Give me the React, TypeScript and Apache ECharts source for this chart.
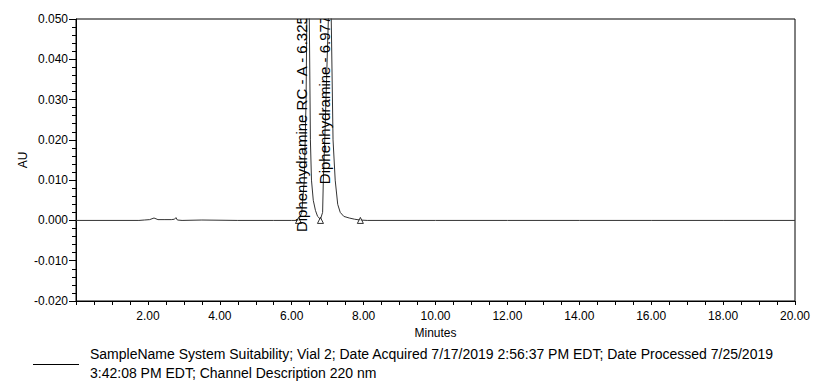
import React, { useEffect, useRef } from "react";
import * as echarts from "echarts";

// Trace (retention time in minutes, absorbance in AU)
const traceTimes = [
  0, 1.75, 1.9, 2.05, 2.17, 2.28, 2.45, 2.65, 2.74, 2.78, 2.82, 2.95, 3.5, 4.5, 5.5, 6.0,
  6.19, 6.28, 6.35, 6.4, 6.42, 6.455, 6.49, 6.52, 6.55, 6.6, 6.66, 6.72, 6.8,
  6.86, 6.88, 6.92, 6.97, 7.02, 7.06, 7.1, 7.15, 7.21, 7.28, 7.35, 7.45, 7.6, 7.75, 7.9, 8.1,
  10, 12, 14, 16, 18, 20,
];
const traceValues = [
  0, 0, 0.0001, 0.0002, 0.0006, 0.0002, 0.0002, 0.0002, 0.0003, 0.0007, 0.0001, 0, 0.0001, 0, 0, 0,
  0, 0.002, 0.01, 0.03, 0.05, 0.3, 0.05, 0.02, 0.01, 0.005, 0.0025, 0.001, 0.0003,
  0.002, 0.01, 0.02, 0.035, 0.05, 0.5, 0.05, 0.02, 0.01, 0.004, 0.002, 0.001, 0.0006, 0.0003, 0.0001, 0,
  0, 0, 0, 0, 0, 0,
];

// Integration markers (peak start / end)
const markerTimes = [6.19, 6.8, 7.91];
const markerValues = [0, 0, 0];

// Peak labels
const peakLabels = ["Diphenhydramine RC - A - 6.325", "Diphenhydramine - 6.977"];
const peakLabelTimes = [6.26, 6.9];
const peakLabelValues = [-0.0029, 0.009];

const yTicksMin = -0.02;
const yTicksMax = 0.05;
const xMin = 0;
const xMax = 20;

const legendText =
  "SampleName System Suitability; Vial 2; Date Acquired 7/17/2019 2:56:37 PM EDT; Date Processed 7/25/2019\n3:42:08 PM EDT; Channel Description 220 nm";

const FONT = '"Liberation Sans", Arial, sans-serif';

export default function App() {
  const ref = useRef<HTMLDivElement>(null);

  useEffect(() => {
    document.body.style.margin = "0";
    if (!ref.current) return;
    const chart = echarts.init(ref.current, undefined, { renderer: "svg" });
    const traceData = traceTimes.map((t, i) => [t, traceValues[i]]);
    const markerData = markerTimes.map((t, i) => [t, markerValues[i]]);
    const labelData = peakLabelTimes.map((t, i) => [t, peakLabelValues[i]]);

    chart.setOption({
      animation: false,
      backgroundColor: "#fff",
      grid: {
        left: 76,
        right: 22,
        top: 19,
        bottom: 84,
        show: true,
        borderColor: "#000",
        borderWidth: 1,
        backgroundColor: "transparent",
      },
      xAxis: {
        type: "value",
        min: xMin,
        max: xMax,
        interval: 2,
        name: "Minutes",
        nameLocation: "middle",
        nameGap: 26,
        nameMoveOverlap: false,
        nameTextStyle: { fontFamily: FONT, fontSize: 12, color: "#000" },
        axisLine: { show: true, onZero: false, lineStyle: { color: "#000", width: 1 } },
        axisTick: { show: true, length: 4, lineStyle: { color: "#000" } },
        minorTick: { show: true, splitNumber: 4, length: 4, lineStyle: { color: "#000" } },
        splitLine: { show: false },
        axisLabel: {
          margin: 9,
          fontFamily: FONT,
          fontSize: 12,
          color: "#000",
          formatter: (v: number) => (v === 0 ? "" : v.toFixed(2)),
        },
      },
      yAxis: {
        type: "value",
        min: yTicksMin,
        max: yTicksMax,
        interval: 0.01,
        name: "AU",
        nameLocation: "middle",
        nameGap: 47,
        nameMoveOverlap: false,
        nameTextStyle: { fontFamily: FONT, fontSize: 12, color: "#000" },
        axisLine: { show: true, onZero: false, lineStyle: { color: "#000", width: 1 } },
        axisTick: { show: true, length: 7, lineStyle: { color: "#000" } },
        minorTick: { show: true, splitNumber: 5, length: 4, lineStyle: { color: "#000" } },
        splitLine: { show: false },
        axisLabel: {
          margin: 8,
          fontFamily: FONT,
          fontSize: 12,
          color: "#000",
          formatter: (v: number) => v.toFixed(3),
        },
      },
      series: [
        {
          type: "line",
          data: traceData,
          showSymbol: false,
          symbol: "none",
          clip: true,
          lineStyle: { color: "#333", width: 1 },
          silent: true,
          z: 2,
        },
        {
          type: "scatter",
          data: markerData,
          symbol: "triangle",
          symbolSize: 6,
          itemStyle: { color: "#fff", borderColor: "#000", borderWidth: 1 },
          silent: true,
          z: 3,
        },
        {
          type: "custom",
          coordinateSystem: "cartesian2d",
          clip: true,
          silent: true,
          z: 4,
          data: labelData,
          renderItem: (params: any, api: any) => {
            const p = api.coord([api.value(0), api.value(1)]);
            return {
              type: "text",
              x: p[0],
              y: p[1],
              rotation: Math.PI / 2,
              style: {
                text: peakLabels[params.dataIndex],
                font: `15px ${FONT}`,
                fill: "#000",
                align: "left",
                verticalAlign: "middle",
              },
            };
          },
        },
      ],
      graphic: [
        {
          type: "line",
          shape: { x1: 33, y1: 364.5, x2: 79, y2: 364.5 },
          style: { stroke: "#000", lineWidth: 1 },
          silent: true,
        },
        {
          type: "text",
          x: 90,
          y: 344,
          style: {
            text: legendText,
            font: `14px ${FONT}`,
            fill: "#000",
            lineHeight: 19,
            verticalAlign: "top",
            align: "left",
          },
          silent: true,
        },
      ],
    });
    return () => chart.dispose();
  }, []);

  return <div ref={ref} style={{ width: 817, height: 385 }} />;
}
